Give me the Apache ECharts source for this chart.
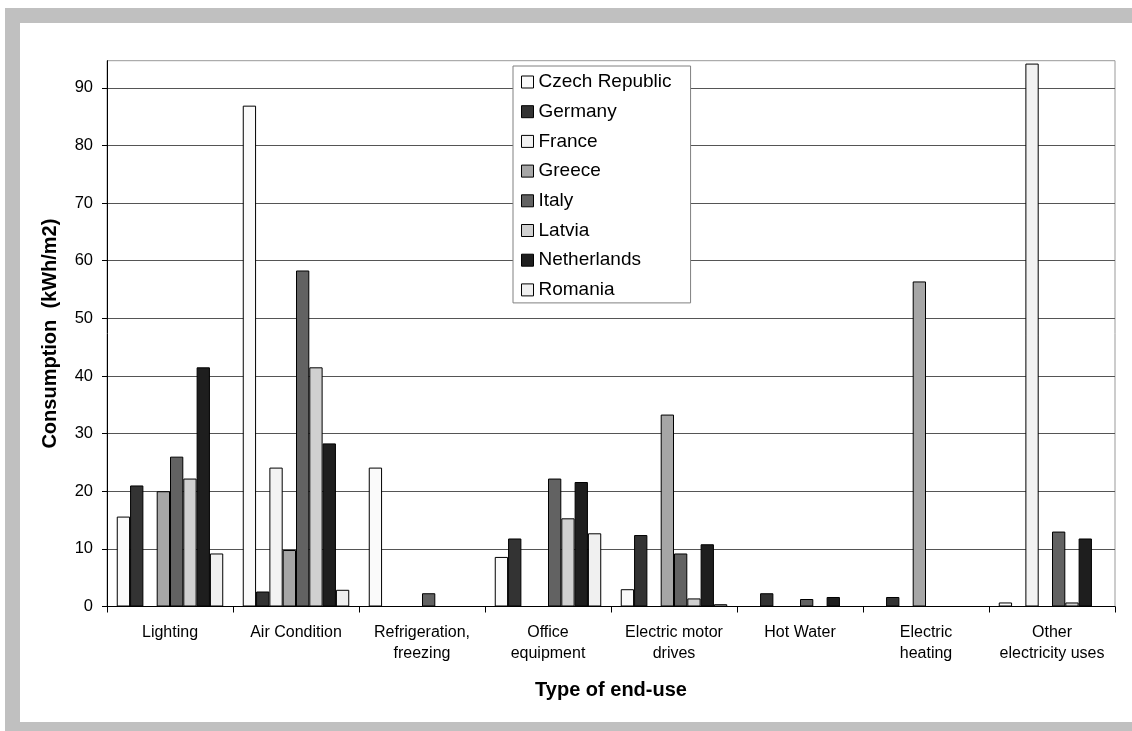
<!DOCTYPE html>
<html>
<head>
<meta charset="utf-8">
<script src="https://cdn.jsdelivr.net/npm/echarts@6/dist/echarts.min.js"></script>
<style>html,body{margin:0;padding:0;background:#fff;}#c{width:1132px;height:731px;}</style>
</head>
<body>
<div id="c"></div>
<script>
const categories = ['Lighting', 'Air Condition', 'Refrigeration,\nfreezing', 'Office\nequipment', 'Electric motor\ndrives', 'Hot Water', 'Electric\nheating', 'Other\nelectricity uses'];
const seriesNames = ['Czech Republic', 'Germany', 'France', 'Greece', 'Italy', 'Latvia', 'Netherlands', 'Romania'];
const czech       = [15.6, 86.9, 24.1, 8.6, 3.0, 0, 0, 0.7];
const germany     = [21.0, 2.6, 0, 11.8, 12.4, 2.3, 1.65, 0];
const france      = [0, 24.1, 0, 0, 0, 0, 0, 94.2];
const greece      = [20.0, 9.8, 0, 0, 33.3, 0, 56.4, 0];
const italy       = [26.0, 58.3, 2.3, 22.2, 9.2, 1.3, 0, 13.0];
const latvia      = [22.2, 41.5, 0, 15.3, 1.4, 0, 0, 0.7];
const netherlands = [41.5, 28.3, 0, 21.6, 10.8, 1.65, 0, 11.8];
const romania     = [9.2, 2.9, 0, 12.7, 0.4, 0, 0, 0];
const seriesData = [czech, germany, france, greece, italy, latvia, netherlands, romania];
const colors = ['#fafafa', '#333333', '#f2f2f2', '#a6a6a6', '#626262', '#d0d0d0', '#1e1e1e', '#f0f0f0'];
const yTicks = [0, 10, 20, 30, 40, 50, 60, 70, 80, 90];

const FONT = 'Liberation Sans, Arial, sans-serif';
const chart = echarts.init(document.getElementById('c'), null, {renderer: 'canvas'});
chart.setOption({
  animation: false,
  backgroundColor: '#ffffff',
  graphic: [
    {type: 'rect', z: -10, silent: true, shape: {x: 5, y: 8, width: 1200, height: 800}, style: {fill: '#c0c0c0'}},
    {type: 'rect', z: -9, silent: true, shape: {x: 20, y: 23, width: 1200, height: 699}, style: {fill: '#ffffff'}}
  ],
  grid: {left: 107, right: 17, top: 60.7, bottom: 124.5, show: true, borderColor: '#999999', borderWidth: 1, backgroundColor: 'transparent'},
  legend: {
    orient: 'vertical', left: 513, top: 66,
    backgroundColor: '#ffffff', borderColor: '#808080', borderWidth: 1,
    padding: [6, 19, 3, 8],
    itemWidth: 12, itemHeight: 12, itemGap: 9.7,
    icon: 'rect',
    itemStyle: {borderColor: '#000', borderWidth: 1},
    textStyle: {fontFamily: FONT, fontSize: 19, lineHeight: 20, color: '#000'},
    data: seriesNames
  },
  xAxis: {
    type: 'category', data: categories,
    name: 'Type of end-use', nameLocation: 'middle', nameGap: 74,
    nameTextStyle: {fontFamily: FONT, fontSize: 20, fontWeight: 'bold', color: '#000'},
    axisLine: {lineStyle: {color: '#000', width: 1}},
    axisTick: {show: true, length: 6, lineStyle: {color: '#000'}},
    axisLabel: {interval: 0, margin: 16, fontFamily: FONT, fontSize: 16, lineHeight: 21, color: '#000'},
    splitLine: {show: false}
  },
  yAxis: {
    type: 'value', min: 0, max: 94.7, interval: 10,
    name: 'Consumption  (kWh/m2)', nameLocation: 'middle', nameGap: 47,
    nameTextStyle: {fontFamily: FONT, fontSize: 20, fontWeight: 'bold', color: '#000'},
    axisLine: {show: true, lineStyle: {color: '#000', width: 1}},
    axisTick: {show: true, length: 5, lineStyle: {color: '#000'}},
    axisLabel: {margin: 14, fontFamily: FONT, fontSize: 16.5, color: '#000', showMaxLabel: false,
      formatter: v => (yTicks.indexOf(v) >= 0 ? String(v) : '')},
    splitLine: {show: true, showMaxLine: false, lineStyle: {color: '#555', width: 1}}
  },
  series: seriesNames.map((n, i) => ({
    name: n, type: 'bar', data: seriesData[i],
    barGap: '0%', barCategoryGap: '15.5%',
    itemStyle: {color: colors[i], borderColor: '#000', borderWidth: 1}
  }))
});
</script>
</body>
</html>
